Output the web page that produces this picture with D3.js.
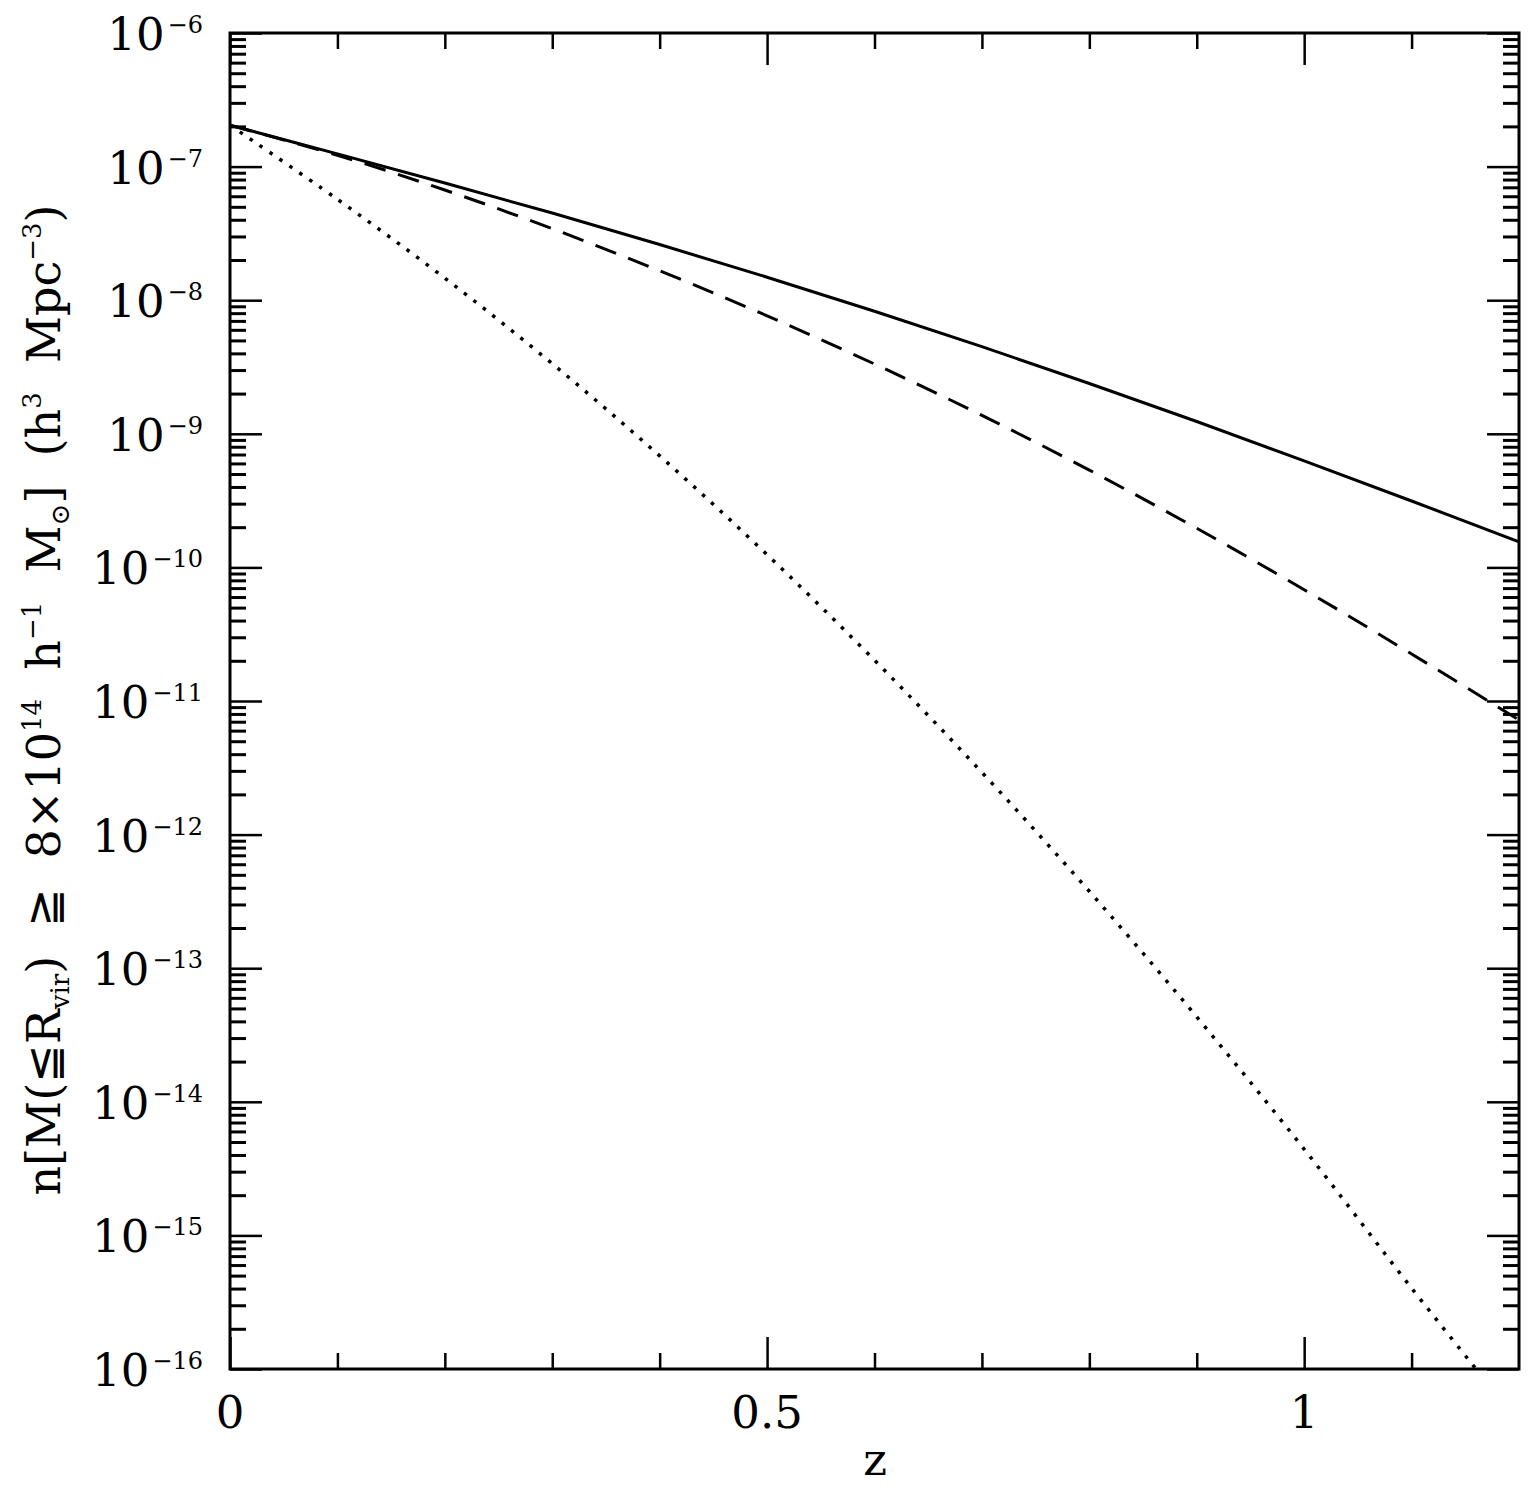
<!DOCTYPE html>
<html>
<head>
<meta charset="utf-8">
<script src="https://cdn.jsdelivr.net/npm/d3@7"></script>
<style>
  html, body { margin: 0; padding: 0; background: #fff; }
  svg { display: block; }
  text { font-family: "DejaVu Serif", "Liberation Serif", serif; fill: #000; }
</style>
</head>
<body>
<script>
// ---- data ----
const zGrid = [0, 0.1, 0.2, 0.3, 0.4, 0.5, 0.6, 0.7, 0.8, 0.9, 1.0, 1.1, 1.2];
const solidValues = [2.04e-7, 1.245e-7, 7.53e-8, 4.49e-8, 2.61e-8, 1.486e-8, 8.26e-9, 4.49e-9, 2.38e-9, 1.236e-9, 6.27e-10, 3.14e-10, 1.556e-10];
const dashedValues = [2.04e-7, 1.216e-7, 6.68e-8, 3.43e-8, 1.66e-8, 7.64e-9, 3.33e-9, 1.374e-9, 5.35e-10, 1.963e-10, 6.81e-11, 2.25e-11, 7.21e-12];
const dottedZ = [0, 0.1, 0.2, 0.3, 0.4, 0.5, 0.6, 0.7, 0.8, 0.9, 1.0, 1.1, 1.16];
const dottedValues = [2.04e-7, 5.69e-8, 1.462e-8, 3.35e-9, 6.84e-10, 1.245e-10, 2.02e-11, 2.92e-12, 3.76e-13, 4.32e-14, 4.42e-15, 4.03e-16, 1.0e-16];
const xTickLabels = ["0", "0.5", "1"];
const xMajorTicks = [0, 0.5, 1];
const xMinorTicks = [0.1, 0.2, 0.3, 0.4, 0.6, 0.7, 0.8, 0.9, 1.1];
const yExponents = [-6, -7, -8, -9, -10, -11, -12, -13, -14, -15, -16];

// ---- layout ----
const W = 1531, H = 1489;
const L = 230, T = 33, R = 1519, B = 1369;

const svg = d3.select("body").append("svg").attr("width", W).attr("height", H);
svg.append("rect").attr("width", W).attr("height", H).attr("fill", "#fff");

const x = d3.scaleLinear().domain([0, 1.2]).range([L, R]);
const y = d3.scaleLog().domain([1e-16, 1e-6]).range([B, T]);

const yMajor = yExponents.map(e => Math.pow(10, e));
const yMinor = [];
for (let e = -16; e < -6; e++) for (let d = 2; d <= 9; d++) yMinor.push(d * Math.pow(10, e));

function styleAxis(g, w) {
  g.select(".domain").remove();
  g.selectAll(".tick line").attr("stroke", "#000").attr("stroke-width", w);
  g.selectAll(".tick text").remove();
}

const big = 32, small = 16;
svg.append("g").attr("transform", `translate(${L},0)`)
  .call(d3.axisLeft(y).tickValues(yMajor).tickSize(-big).tickFormat(""))
  .call(g => styleAxis(g, 2.5));
svg.append("g").attr("transform", `translate(${L},0)`)
  .call(d3.axisLeft(y).tickValues(yMinor).tickSize(-small).tickFormat(""))
  .call(g => styleAxis(g, 3));
svg.append("g").attr("transform", `translate(${R},0)`)
  .call(d3.axisRight(y).tickValues(yMajor).tickSize(-big).tickFormat(""))
  .call(g => styleAxis(g, 2.5));
svg.append("g").attr("transform", `translate(${R},0)`)
  .call(d3.axisRight(y).tickValues(yMinor).tickSize(-small).tickFormat(""))
  .call(g => styleAxis(g, 3));

svg.append("g").attr("transform", `translate(0,${B})`)
  .call(d3.axisBottom(x).tickValues(xMajorTicks).tickSize(-big).tickFormat(""))
  .call(g => styleAxis(g, 2.5));
svg.append("g").attr("transform", `translate(0,${B})`)
  .call(d3.axisBottom(x).tickValues(xMinorTicks).tickSize(-small).tickFormat(""))
  .call(g => styleAxis(g, 2.5));
svg.append("g").attr("transform", `translate(0,${T})`)
  .call(d3.axisTop(x).tickValues(xMajorTicks).tickSize(-big).tickFormat(""))
  .call(g => styleAxis(g, 2.5));
svg.append("g").attr("transform", `translate(0,${T})`)
  .call(d3.axisTop(x).tickValues(xMinorTicks).tickSize(-small).tickFormat(""))
  .call(g => styleAxis(g, 2.5));

// curves
const clip = svg.append("clipPath").attr("id", "plotclip");
clip.append("rect").attr("x", L).attr("y", T).attr("width", R - L).attr("height", B - T);

const line = d3.line().x(d => x(d[0])).y(d => y(d[1])).curve(d3.curveCatmullRom.alpha(0.5));
const plot = svg.append("g").attr("clip-path", "url(#plotclip)");

plot.append("path").datum(zGrid.map((z, i) => [z, solidValues[i]]))
  .attr("d", line).attr("fill", "none").attr("stroke", "#000").attr("stroke-width", 3);
plot.append("path").datum(zGrid.map((z, i) => [z, dashedValues[i]]))
  .attr("d", line).attr("fill", "none").attr("stroke", "#000").attr("stroke-width", 3)
  .attr("stroke-dasharray", "22,13");
plot.append("path").datum(dottedZ.map((z, i) => [z, dottedValues[i]]))
  .attr("d", line).attr("fill", "none").attr("stroke", "#000").attr("stroke-width", 3.5)
  .attr("stroke-dasharray", "3.5,8.5");

// frame
svg.append("rect").attr("x", L).attr("y", T).attr("width", R - L).attr("height", B - T)
  .attr("fill", "none").attr("stroke", "#000").attr("stroke-width", 3);

// Y tick labels
yExponents.forEach(e => {
  const t = svg.append("text").attr("x", 203).attr("y", y(Math.pow(10, e)) + 17)
    .attr("text-anchor", "end").attr("font-size", 45);
  t.append("tspan").text("10");
  t.append("tspan").attr("dx", 3).attr("dy", -17).attr("font-size", 24).text("\u2212" + (-e));
});

// X tick labels
xMajorTicks.forEach((v, i) => {
  svg.append("text").attr("x", x(v)).attr("y", 1428).attr("text-anchor", "middle")
    .attr("font-size", 45).text(xTickLabels[i]);
});

// X axis title
svg.append("text").attr("x", 875).attr("y", 1475).attr("text-anchor", "middle")
  .attr("font-size", 45).text("z");

// Y axis title
const yt = svg.append("text").attr("transform", "translate(60,700) rotate(-90)")
  .attr("text-anchor", "middle").attr("font-size", 46)
  .attr("xml:space", "preserve").style("white-space", "pre");
function seg(txt, opts) {
  const s = yt.append("tspan").text(txt);
  if (opts) Object.entries(opts).forEach(([k, v]) => s.attr(k, v));
  return s;
}
seg("n[M(\u2266R");
seg("vir", {"font-size": 26, dy: 9});
seg(")  \u2267  8\u00d710", {dy: -9});
seg("14", {"font-size": 26, dy: -19});
seg("  h", {dy: 19});
seg("\u22121", {"font-size": 26, dy: -19});
seg("  M", {dy: 19});
seg("\u2299", {"font-size": 26, dy: 9});
seg("]  (h", {dy: -9});
seg("3", {"font-size": 26, dy: -19});
seg("  Mpc", {dy: 19});
seg("\u22123", {"font-size": 26, dy: -19});
seg(")", {dy: 19});
</script>
</body>
</html>
